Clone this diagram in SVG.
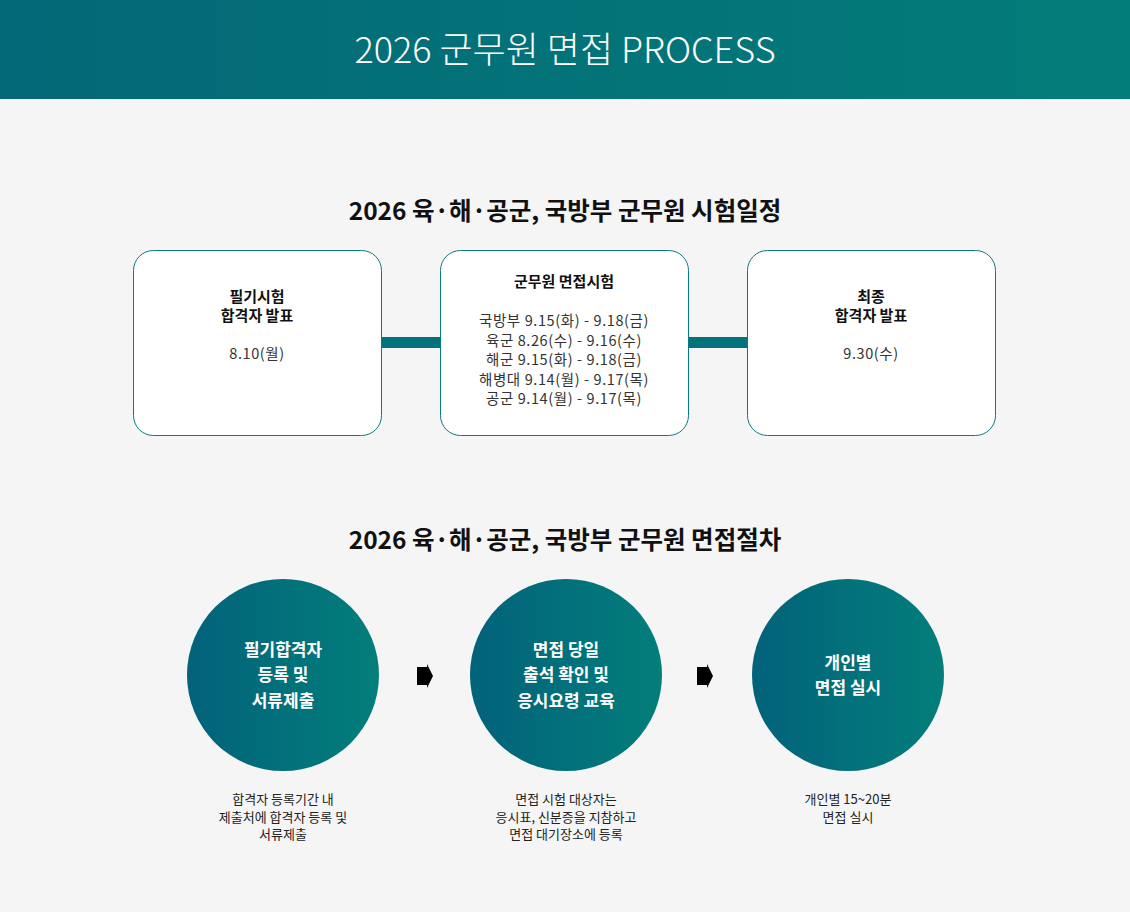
<svg xmlns="http://www.w3.org/2000/svg" width="1130" height="912" viewBox="0 0 1130 912">
<defs>
<linearGradient id="hdr" x1="0" y1="0" x2="1" y2="0">
<stop offset="0" stop-color="#036877"/>
<stop offset="1" stop-color="#037d7a"/>
</linearGradient>
<linearGradient id="cg" x1="0" y1="0" x2="1" y2="0">
<stop offset="0" stop-color="#02627a"/>
<stop offset="1" stop-color="#037e7a"/>
</linearGradient>
<style>
text{font-family:"Noto Sans CJK KR","Noto Sans",sans-serif;text-anchor:middle}
.title{font-size:36px;font-weight:300;fill:#ffffff}
.sec{font-size:24.5px;font-weight:700;fill:#111111}
.bh{font-size:15px;font-weight:700;fill:#111111}
.bt{font-size:14.5px;font-weight:400;fill:#333333;letter-spacing:0.6px}
.box{fill:#ffffff;stroke:#0b7a7e;stroke-width:1}
.ct{font-size:17px;font-weight:700;fill:#ffffff}
.st{font-size:13px;font-weight:400;fill:#222222}
.bar{fill:#03727a}
.arr{fill:#000000}
</style>
</defs>
<rect width="1130" height="912" fill="#f5f5f5"/>
<g id="header">
<rect x="0" y="0" width="1130" height="99" fill="url(#hdr)"/>
<text class="title" x="565" y="63">2026 군무원 면접 PROCESS</text>
</g>
<text class="sec" x="565" y="220">2026 육·해·공군, 국방부 군무원 시험일정</text>
<text class="sec" x="565" y="549">2026 육·해·공군, 국방부 군무원 면접절차</text>
<g id="connectors">
<rect class="bar" x="381" y="337" width="60" height="11"/>
<rect class="bar" x="688" y="337" width="60" height="11"/>
<polygon class="arr" points="417,667 427,667 427,664 433,676 427,688 427,685 417,685"/>
<polygon class="arr" points="697,667 707,667 707,664 713,676 707,688 707,685 697,685"/>
</g>
<g id="box1">
<rect class="box" x="133.5" y="250.5" width="248" height="185" rx="20"/>
<text class="bh" x="257" y="302">필기시험</text>
<text class="bh" x="257" y="321">합격자 발표</text>
<text class="bt" x="257" y="359">8.10(월)</text>
</g>
<g id="box2">
<rect class="box" x="440.5" y="250.5" width="248" height="185" rx="20"/>
<text class="bh" x="564" y="287">군무원 면접시험</text>
<text class="bt" x="564" y="326">국방부 9.15(화) - 9.18(금)</text>
<text class="bt" x="564" y="345.5">육군 8.26(수) - 9.16(수)</text>
<text class="bt" x="564" y="365">해군 9.15(화) - 9.18(금)</text>
<text class="bt" x="564" y="384.5">해병대 9.14(월) - 9.17(목)</text>
<text class="bt" x="564" y="404">공군 9.14(월) - 9.17(목)</text>
</g>
<g id="box3">
<rect class="box" x="747.5" y="250.5" width="248" height="185" rx="20"/>
<text class="bh" x="871" y="302">최종</text>
<text class="bh" x="871" y="321">합격자 발표</text>
<text class="bt" x="871" y="359">9.30(수)</text>
</g>
<g id="step1">
<circle cx="283" cy="675" r="96" fill="url(#cg)"/>
<text class="ct" x="283" y="656">필기합격자</text>
<text class="ct" x="283" y="681">등록 및</text>
<text class="ct" x="283" y="707">서류제출</text>
<text class="st" x="283" y="804">합격자 등록기간 내</text>
<text class="st" x="283" y="822">제출처에 합격자 등록 및</text>
<text class="st" x="283" y="839">서류제출</text>
</g>
<g id="step2">
<circle cx="566" cy="675" r="96" fill="url(#cg)"/>
<text class="ct" x="566" y="656">면접 당일</text>
<text class="ct" x="566" y="681">출석 확인 및</text>
<text class="ct" x="566" y="707">응시요령 교육</text>
<text class="st" x="566" y="804">면접 시험 대상자는</text>
<text class="st" x="566" y="822">응시표, 신분증을 지참하고</text>
<text class="st" x="566" y="839">면접 대기장소에 등록</text>
</g>
<g id="step3">
<circle cx="848" cy="675" r="96" fill="url(#cg)"/>
<text class="ct" x="848" y="669">개인별</text>
<text class="ct" x="848" y="694">면접 실시</text>
<text class="st" x="848" y="804">개인별 15~20분</text>
<text class="st" x="848" y="822">면접 실시</text>
</g>
</svg>
